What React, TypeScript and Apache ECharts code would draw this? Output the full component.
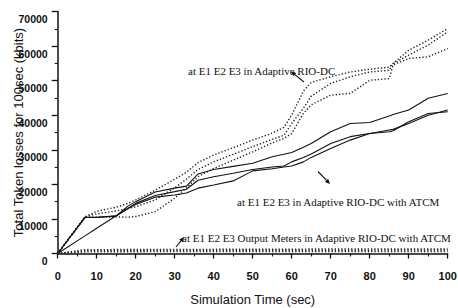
import React, { useEffect, useRef } from "react";
import * as echarts from "echarts";

// Simulation time (sec)
const times = [0, 7, 10, 15, 18, 20, 25, 30, 33, 36, 40, 45, 50, 55, 58, 60, 63, 65, 70, 75, 80, 85, 86, 90, 95, 100];

// Adaptive RIO-DC (dotted) at E1, E2, E3
const rioE1 = [0, 10600, 12200, 13400, 14500, 15500, 18300, 21500, 23500, 26300, 28500, 30600, 32800, 34800, 36500, 40000, 47000, 49500, 51100, 52500, 53300, 53900, 55000, 58800, 61700, 65100];
const rioE2 = [0, 10600, 11500, 12300, 13000, 13500, 15500, 19000, 21500, 24300, 26500, 28700, 30900, 33000, 34200, 37600, 42000, 45500, 49200, 51100, 52500, 53000, 54900, 57400, 60300, 64100];
const rioE3 = [0, 10500, 10500, 10600, 10500, 10700, 12100, 16000, 19000, 22200, 24600, 27000, 29400, 32000, 33300, 34700, 40500, 43000, 45800, 46300, 50100, 50600, 54500, 56400, 56900, 59300];

// Adaptive RIO-DC with ATCM (solid) at E1, E2, E3
const atcmE1 = [0, 10500, 10500, 10900, 13700, 15000, 17800, 18900, 19500, 23000, 24300, 25200, 26100, 28000, 28700, 29200, 30700, 31800, 35200, 37600, 37900, 39800, 40200, 41500, 44900, 46300];
const atcmE2 = [0, 5100, 7300, 10900, 13000, 14500, 16800, 17900, 18600, 21200, 22200, 23200, 24300, 25000, 25300, 26500, 27800, 28800, 31800, 33800, 34700, 35700, 35900, 37600, 40000, 41500];
const atcmE3 = [0, 10400, 10400, 10800, 13000, 14200, 16300, 16900, 17500, 18900, 19800, 21000, 23900, 24500, 25000, 25300, 26500, 27800, 30400, 32800, 34700, 35200, 35500, 38100, 40500, 41000];

// Output meters in Adaptive RIO-DC with ATCM (dotted) at E1, E2, E3
const meterE1 = [0, 1100, 1100, 1150, 1150, 1150, 1200, 1200, 1200, 1200, 1200, 1250, 1250, 1250, 1250, 1250, 1250, 1300, 1300, 1300, 1300, 1300, 1300, 1300, 1300, 1300];
const meterE2 = [0, 800, 850, 850, 850, 850, 900, 900, 900, 900, 900, 900, 950, 950, 950, 950, 950, 950, 950, 950, 950, 1000, 1000, 1000, 1000, 1000];
const meterE3 = [0, 450, 500, 500, 500, 500, 550, 550, 550, 550, 550, 550, 600, 600, 600, 600, 600, 600, 600, 600, 600, 600, 600, 600, 600, 600];

const xTicks = { min: 0, max: 100, interval: 10 };
const yTicks = { min: 0, max: 70000, interval: 10000 };

const labelRio = "at E1 E2 E3 in Adaptive RIO-DC";
const labelAtcm = "at E1 E2 E3 in Adaptive RIO-DC with ATCM";
const labelMeter = "at E1 E2 E3 Output Meters in Adaptive RIO-DC with ATCM";

const pairs = (vals: number[]) => times.map((t, i) => [t, vals[i]]);

function arrow(hx: number, hy: number, tx: number, ty: number) {
  const dx = hx - tx;
  const dy = hy - ty;
  const len = Math.sqrt(dx * dx + dy * dy);
  const ux = dx / len;
  const uy = dy / len;
  const hl = 5;
  const hw = 2.2;
  const bx = hx - ux * hl;
  const by = hy - uy * hl;
  return [
    {
      type: "line",
      shape: { x1: tx, y1: ty, x2: bx, y2: by },
      style: { stroke: "#111", lineWidth: 1.1 },
    },
    {
      type: "polygon",
      shape: {
        points: [
          [hx, hy],
          [bx - uy * hw, by + ux * hw],
          [bx + uy * hw, by - ux * hw],
        ],
      },
      style: { fill: "#111" },
    },
  ];
}

export default function App() {
  const ref = useRef<HTMLDivElement>(null);
  useEffect(() => {
    if (!ref.current) return;
    const chart = echarts.init(ref.current, undefined, { renderer: "svg" });
    const dotted = (name: string, vals: number[]) => ({
      name,
      type: "line",
      data: pairs(vals),
      showSymbol: false,
      lineStyle: { type: [1.3, 2], width: 1.4, color: "#222" },
      silent: true,
    });
    const solid = (name: string, vals: number[]) => ({
      name,
      type: "line",
      data: pairs(vals),
      showSymbol: false,
      lineStyle: { type: "solid", width: 1.1, color: "#111" },
      silent: true,
    });
    const textStyle = {
      fill: "#111",
      font: "11px 'Liberation Serif', 'Times New Roman', serif",
    };
    chart.setOption({
      animation: false,
      backgroundColor: "#fff",
      grid: {
        left: 57.7,
        right: 10.3,
        top: 11.5,
        bottom: 54.5,
        containLabel: false,
        outerBoundsMode: "none",
      },
      xAxis: {
        type: "value",
        ...xTicks,
        name: "Simulation Time (sec)",
        nameLocation: "middle",
        nameGap: 39,
        nameMoveOverlap: false,
        nameTextStyle: { fontFamily: "Liberation Sans, Arial, sans-serif", fontSize: 13, color: "#111" },
        axisLine: { show: true, onZero: false, lineStyle: { color: "#111", width: 1.5 } },
        axisTick: { show: true, length: 5, inside: false, lineStyle: { color: "#111", width: 1.3 } },
        minorTick: { show: true, splitNumber: 2, length: 3, lineStyle: { color: "#111", width: 1.1 } },
        splitLine: { show: false },
        axisLabel: {
          margin: 17,
          fontFamily: "Liberation Sans, Arial, sans-serif",
          fontSize: 11,
          fontWeight: "bold",
          color: "#111",
        },
      },
      yAxis: {
        type: "value",
        ...yTicks,
        name: "Total Token losses for 100sec (kbits)",
        nameLocation: "middle",
        nameGap: 33,
        nameRotate: 90,
        nameMoveOverlap: false,
        nameTextStyle: { fontFamily: "Liberation Sans, Arial, sans-serif", fontSize: 13, color: "#111" },
        axisLine: { show: true, lineStyle: { color: "#111", width: 1.5 } },
        axisTick: { show: true, length: 6, inside: false, lineStyle: { color: "#111", width: 1.3 } },
        minorTick: { show: true, splitNumber: 2, length: 3, lineStyle: { color: "#111", width: 1.1 } },
        splitLine: { show: false },
        axisLabel: {
          margin: 10,
          verticalAlign: "top",
          padding: [2, 0, 0, 0],
          formatter: (v: number) => String(v),
          fontFamily: "Liberation Sans, Arial, sans-serif",
          fontSize: 10.5,
          fontWeight: "bold",
          color: "#111",
        },
      },
      series: [
        dotted("RIO-DC E1", rioE1),
        dotted("RIO-DC E2", rioE2),
        dotted("RIO-DC E3", rioE3),
        solid("ATCM E1", atcmE1),
        solid("ATCM E2", atcmE2),
        solid("ATCM E3", atcmE3),
        dotted("Meter E1", meterE1),
        dotted("Meter E2", meterE2),
        dotted("Meter E3", meterE3),
      ],
      graphic: [
        { type: "text", x: 188, y: 71, style: { ...textStyle, text: labelRio, verticalAlign: "middle" } },
        { type: "text", x: 237, y: 202, style: { ...textStyle, text: labelAtcm, verticalAlign: "middle" } },
        { type: "text", x: 182, y: 238, style: { ...textStyle, text: labelMeter, verticalAlign: "middle" } },
        ...arrow(291, 71.5, 304, 82),
        ...arrow(330, 184, 318, 171.5),
        ...arrow(184, 237, 176, 247),
      ],
    });
    return () => chart.dispose();
  }, []);
  return (
    <div
      ref={ref}
      style={{ position: "fixed", left: 0, top: 0, width: 458, height: 308, background: "#fff" }}
    />
  );
}
